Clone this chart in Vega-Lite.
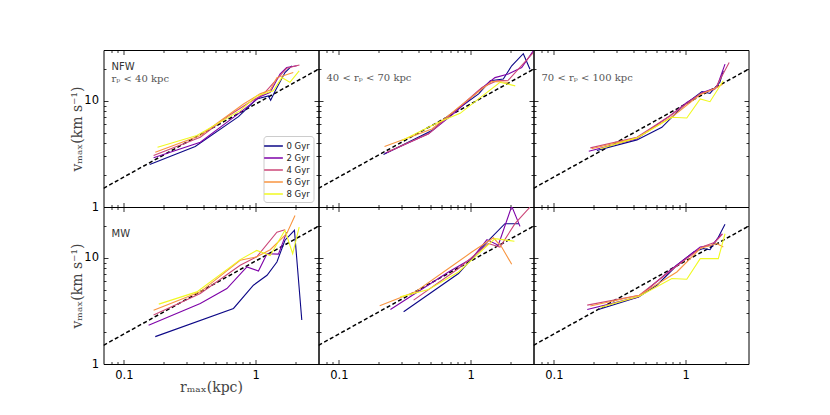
{
"$schema": "https://vega.github.io/schema/vega-lite/v6.json",
"background": "white",
"padding": {"left": 69.5, "top": 49, "right": 5, "bottom": 5},
"columns": 3,
"spacing": 0,
"bounds": "flush",
"config": {
  "view": {"stroke": "black", "strokeWidth": 1},
  "axis": {"domain": false, "grid": false, "tickColor": "black", "tickWidth": 0.8, "labelFont": "DejaVu Sans", "labelFontSize": 11.5, "labelColor": "black", "titleFont": "DejaVu Serif", "titleFontSize": 14, "titleFontWeight": "normal", "titleColor": "#444", "labelOverlap": false, "labelFlush": false, "titlePadding": 2, "minExtent": 0},
  "axisX": {"titlePadding": -2},
  "axisY": {"titlePadding": -1},
  "title": {"anchor": "start", "frame": "group", "offset": -33, "dx": 8, "fontWeight": "normal", "fontSize": 10, "font": "DejaVu Serif", "color": "#555"},
  "concat": {"spacing": 0}
},
"datasets": {
  "fit": [{"r": 0.07, "v": 1.5}, {"r": 3, "v": 19.8}],
  "curves": [
    {"p":"a","t":"0 Gyr","r":0.157,"v":2.51},{"p":"a","t":"0 Gyr","r":0.348,"v":3.71},{"p":"a","t":"0 Gyr","r":0.741,"v":7.08},{"p":"a","t":"0 Gyr","r":1.02,"v":10.4},{"p":"a","t":"0 Gyr","r":1.25,"v":11.1},{"p":"a","t":"0 Gyr","r":1.30,"v":10.1},{"p":"a","t":"0 Gyr","r":1.41,"v":12.4},{"p":"a","t":"0 Gyr","r":1.67,"v":18.4},{"p":"a","t":"0 Gyr","r":1.88,"v":21.3},
    {"p":"a","t":"2 Gyr","r":0.168,"v":2.90},{"p":"a","t":"2 Gyr","r":0.380,"v":4.07},{"p":"a","t":"2 Gyr","r":0.763,"v":7.77},{"p":"a","t":"2 Gyr","r":1.08,"v":10.9},{"p":"a","t":"2 Gyr","r":1.29,"v":12.0},{"p":"a","t":"2 Gyr","r":1.53,"v":17.8},{"p":"a","t":"2 Gyr","r":1.72,"v":20.5},{"p":"a","t":"2 Gyr","r":2.05,"v":21.3},
    {"p":"a","t":"4 Gyr","r":0.168,"v":3.05},{"p":"a","t":"4 Gyr","r":0.380,"v":4.53},{"p":"a","t":"4 Gyr","r":0.641,"v":7.39},{"p":"a","t":"4 Gyr","r":0.858,"v":9.31},{"p":"a","t":"4 Gyr","r":1.15,"v":11.6},{"p":"a","t":"4 Gyr","r":1.45,"v":16.0},{"p":"a","t":"4 Gyr","r":1.72,"v":20.2},{"p":"a","t":"4 Gyr","r":2.15,"v":21.7},
    {"p":"a","t":"6 Gyr","r":0.173,"v":3.28},{"p":"a","t":"6 Gyr","r":0.380,"v":4.70},{"p":"a","t":"6 Gyr","r":0.809,"v":9.31},{"p":"a","t":"6 Gyr","r":1.08,"v":11.6},{"p":"a","t":"6 Gyr","r":1.29,"v":12.6},{"p":"a","t":"6 Gyr","r":1.45,"v":16.5},{"p":"a","t":"6 Gyr","r":1.62,"v":17.2},{"p":"a","t":"6 Gyr","r":1.93,"v":18.4},
    {"p":"a","t":"8 Gyr","r":0.180,"v":3.65},{"p":"a","t":"8 Gyr","r":0.358,"v":4.70},{"p":"a","t":"8 Gyr","r":0.763,"v":8.06},{"p":"a","t":"8 Gyr","r":1.02,"v":11.1},{"p":"a","t":"8 Gyr","r":1.36,"v":12.4},{"p":"a","t":"8 Gyr","r":1.58,"v":16.5},{"p":"a","t":"8 Gyr","r":1.82,"v":14.9},{"p":"a","t":"8 Gyr","r":2.14,"v":19.1},

    {"p":"b","t":"0 Gyr","r":0.218,"v":3.12},{"p":"b","t":"0 Gyr","r":0.508,"v":5.24},{"p":"b","t":"0 Gyr","r":0.679,"v":7.23},{"p":"b","t":"0 Gyr","r":1.15,"v":11.6},{"p":"b","t":"0 Gyr","r":1.41,"v":15.4},{"p":"b","t":"0 Gyr","r":1.77,"v":16.0},{"p":"b","t":"0 Gyr","r":2.05,"v":21.3},{"p":"b","t":"0 Gyr","r":2.51,"v":27.7},{"p":"b","t":"0 Gyr","r":2.82,"v":19.8},
    {"p":"b","t":"2 Gyr","r":0.225,"v":3.21},{"p":"b","t":"2 Gyr","r":0.479,"v":4.88},{"p":"b","t":"2 Gyr","r":0.763,"v":7.77},{"p":"b","t":"2 Gyr","r":1.15,"v":12.4},{"p":"b","t":"2 Gyr","r":1.53,"v":16.5},{"p":"b","t":"2 Gyr","r":1.93,"v":17.8},{"p":"b","t":"2 Gyr","r":2.44,"v":20.5},{"p":"b","t":"2 Gyr","r":2.99,"v":29.4},
    {"p":"b","t":"4 Gyr","r":0.232,"v":3.28},{"p":"b","t":"4 Gyr","r":0.479,"v":4.88},{"p":"b","t":"4 Gyr","r":0.763,"v":8.06},{"p":"b","t":"4 Gyr","r":1.22,"v":13.3},{"p":"b","t":"4 Gyr","r":1.58,"v":15.4},{"p":"b","t":"4 Gyr","r":1.93,"v":15.6},{"p":"b","t":"4 Gyr","r":2.99,"v":28.4},
    {"p":"b","t":"6 Gyr","r":0.222,"v":3.71},{"p":"b","t":"6 Gyr","r":0.508,"v":5.43},{"p":"b","t":"6 Gyr","r":0.809,"v":8.65},{"p":"b","t":"6 Gyr","r":1.22,"v":12.9},{"p":"b","t":"6 Gyr","r":1.45,"v":15.2},{"p":"b","t":"6 Gyr","r":1.93,"v":14.9},
    {"p":"b","t":"8 Gyr","r":0.301,"v":4.22},{"p":"b","t":"8 Gyr","r":0.570,"v":6.26},{"p":"b","t":"8 Gyr","r":0.832,"v":7.60},{"p":"b","t":"8 Gyr","r":1.15,"v":10.4},{"p":"b","t":"8 Gyr","r":1.67,"v":14.9},{"p":"b","t":"8 Gyr","r":2.18,"v":13.8},

    {"p":"c","t":"0 Gyr","r":0.212,"v":3.40},{"p":"c","t":"0 Gyr","r":0.427,"v":4.28},{"p":"c","t":"0 Gyr","r":0.660,"v":5.62},{"p":"c","t":"0 Gyr","r":0.962,"v":8.98},{"p":"c","t":"0 Gyr","r":1.33,"v":12.2},{"p":"c","t":"0 Gyr","r":1.53,"v":11.7},{"p":"c","t":"0 Gyr","r":1.82,"v":14.9},{"p":"c","t":"0 Gyr","r":1.93,"v":19.1},
    {"p":"c","t":"2 Gyr","r":0.184,"v":3.35},{"p":"c","t":"2 Gyr","r":0.427,"v":4.38},{"p":"c","t":"2 Gyr","r":0.763,"v":7.23},{"p":"c","t":"2 Gyr","r":1.02,"v":9.64},{"p":"c","t":"2 Gyr","r":1.36,"v":12.0},{"p":"c","t":"2 Gyr","r":1.72,"v":13.3},{"p":"c","t":"2 Gyr","r":1.99,"v":22.1},
    {"p":"c","t":"4 Gyr","r":0.189,"v":3.60},{"p":"c","t":"4 Gyr","r":0.427,"v":4.53},{"p":"c","t":"4 Gyr","r":0.763,"v":7.23},{"p":"c","t":"4 Gyr","r":1.29,"v":11.6},{"p":"c","t":"4 Gyr","r":1.67,"v":12.9},{"p":"c","t":"4 Gyr","r":2.14,"v":22.9},
    {"p":"c","t":"6 Gyr","r":0.193,"v":3.53},{"p":"c","t":"6 Gyr","r":0.427,"v":4.47},{"p":"c","t":"6 Gyr","r":0.809,"v":7.23},{"p":"c","t":"6 Gyr","r":1.29,"v":11.4},{"p":"c","t":"6 Gyr","r":1.72,"v":13.3},{"p":"c","t":"6 Gyr","r":1.91,"v":14.3},
    {"p":"c","t":"8 Gyr","r":0.225,"v":3.53},{"p":"c","t":"8 Gyr","r":0.427,"v":4.47},{"p":"c","t":"8 Gyr","r":0.786,"v":6.98},{"p":"c","t":"8 Gyr","r":1.02,"v":6.88},{"p":"c","t":"8 Gyr","r":1.29,"v":10.4},{"p":"c","t":"8 Gyr","r":1.53,"v":9.79},{"p":"c","t":"8 Gyr","r":1.93,"v":15.4},

    {"p":"d","t":"0 Gyr","r":0.173,"v":1.81},{"p":"d","t":"0 Gyr","r":0.679,"v":3.33},{"p":"d","t":"0 Gyr","r":0.962,"v":5.51},{"p":"d","t":"0 Gyr","r":1.22,"v":6.84},{"p":"d","t":"0 Gyr","r":1.45,"v":9.12},{"p":"d","t":"0 Gyr","r":1.67,"v":14.6},{"p":"d","t":"0 Gyr","r":1.97,"v":18.1},{"p":"d","t":"0 Gyr","r":2.24,"v":2.59},
    {"p":"d","t":"2 Gyr","r":0.154,"v":2.32},{"p":"d","t":"2 Gyr","r":0.380,"v":3.71},{"p":"d","t":"2 Gyr","r":0.605,"v":5.13},{"p":"d","t":"2 Gyr","r":0.858,"v":8.18},{"p":"d","t":"2 Gyr","r":1.05,"v":7.50},{"p":"d","t":"2 Gyr","r":1.22,"v":10.9},{"p":"d","t":"2 Gyr","r":1.49,"v":10.8},{"p":"d","t":"2 Gyr","r":1.72,"v":17.4},
    {"p":"d","t":"4 Gyr","r":0.168,"v":2.89},{"p":"d","t":"4 Gyr","r":0.380,"v":4.61},{"p":"d","t":"4 Gyr","r":0.763,"v":8.49},{"p":"d","t":"4 Gyr","r":1.02,"v":10.2},{"p":"d","t":"4 Gyr","r":1.45,"v":17.4},{"p":"d","t":"4 Gyr","r":1.67,"v":18.3},
    {"p":"d","t":"6 Gyr","r":0.168,"v":3.21},{"p":"d","t":"6 Gyr","r":0.380,"v":4.77},{"p":"d","t":"6 Gyr","r":0.763,"v":9.46},{"p":"d","t":"6 Gyr","r":1.02,"v":10.2},{"p":"d","t":"6 Gyr","r":1.29,"v":11.9},{"p":"d","t":"6 Gyr","r":1.72,"v":16.8},{"p":"d","t":"6 Gyr","r":1.99,"v":25.0},
    {"p":"d","t":"8 Gyr","r":0.184,"v":3.66},{"p":"d","t":"8 Gyr","r":0.358,"v":4.77},{"p":"d","t":"8 Gyr","r":0.763,"v":9.60},{"p":"d","t":"8 Gyr","r":1.02,"v":11.7},{"p":"d","t":"8 Gyr","r":1.29,"v":10.5},{"p":"d","t":"8 Gyr","r":1.67,"v":18.1},{"p":"d","t":"8 Gyr","r":1.91,"v":10.9},{"p":"d","t":"8 Gyr","r":2.14,"v":19.4},

    {"p":"e","t":"0 Gyr","r":0.310,"v":3.10},{"p":"e","t":"0 Gyr","r":0.809,"v":7.10},{"p":"e","t":"0 Gyr","r":1.02,"v":9.81},{"p":"e","t":"0 Gyr","r":1.41,"v":15.1},{"p":"e","t":"0 Gyr","r":1.82,"v":20.9},{"p":"e","t":"0 Gyr","r":2.33,"v":20.9},
    {"p":"e","t":"2 Gyr","r":0.246,"v":3.26},{"p":"e","t":"2 Gyr","r":0.679,"v":7.34},{"p":"e","t":"2 Gyr","r":1.02,"v":9.81},{"p":"e","t":"2 Gyr","r":1.33,"v":14.8},{"p":"e","t":"2 Gyr","r":1.62,"v":13.1},{"p":"e","t":"2 Gyr","r":2.05,"v":30.5},{"p":"e","t":"2 Gyr","r":2.37,"v":19.7},
    {"p":"e","t":"4 Gyr","r":0.369,"v":3.99},{"p":"e","t":"4 Gyr","r":0.809,"v":7.91},{"p":"e","t":"4 Gyr","r":1.36,"v":13.6},{"p":"e","t":"4 Gyr","r":1.67,"v":12.6},{"p":"e","t":"4 Gyr","r":2.17,"v":20.9},{"p":"e","t":"4 Gyr","r":2.82,"v":29.9},
    {"p":"e","t":"6 Gyr","r":0.204,"v":3.53},{"p":"e","t":"6 Gyr","r":0.380,"v":4.77},{"p":"e","t":"6 Gyr","r":0.679,"v":7.91},{"p":"e","t":"6 Gyr","r":1.02,"v":11.3},{"p":"e","t":"6 Gyr","r":1.49,"v":15.4},{"p":"e","t":"6 Gyr","r":1.72,"v":12.6},{"p":"e","t":"6 Gyr","r":2.05,"v":8.67},
    {"p":"e","t":"8 Gyr","r":0.292,"v":4.28},{"p":"e","t":"8 Gyr","r":0.479,"v":5.02},{"p":"e","t":"8 Gyr","r":0.809,"v":7.34},{"p":"e","t":"8 Gyr","r":1.08,"v":10.2},{"p":"e","t":"8 Gyr","r":1.53,"v":15.1},{"p":"e","t":"8 Gyr","r":2.15,"v":14.3},

    {"p":"f","t":"0 Gyr","r":0.218,"v":3.26},{"p":"f","t":"0 Gyr","r":0.439,"v":4.28},{"p":"f","t":"0 Gyr","r":0.605,"v":5.51},{"p":"f","t":"0 Gyr","r":0.858,"v":8.49},{"p":"f","t":"0 Gyr","r":1.15,"v":11.3},{"p":"f","t":"0 Gyr","r":1.36,"v":12.2},{"p":"f","t":"0 Gyr","r":1.53,"v":11.9},{"p":"f","t":"0 Gyr","r":1.77,"v":15.6},{"p":"f","t":"0 Gyr","r":1.99,"v":20.6},
    {"p":"f","t":"2 Gyr","r":0.179,"v":3.26},{"p":"f","t":"2 Gyr","r":0.439,"v":4.28},{"p":"f","t":"2 Gyr","r":0.763,"v":7.62},{"p":"f","t":"2 Gyr","r":1.29,"v":12.6},{"p":"f","t":"2 Gyr","r":1.58,"v":13.1},{"p":"f","t":"2 Gyr","r":1.88,"v":16.8},
    {"p":"f","t":"4 Gyr","r":0.179,"v":3.58},{"p":"f","t":"4 Gyr","r":0.445,"v":4.44},{"p":"f","t":"4 Gyr","r":0.809,"v":7.91},{"p":"f","t":"4 Gyr","r":1.33,"v":12.6},{"p":"f","t":"4 Gyr","r":1.67,"v":14.0},{"p":"f","t":"4 Gyr","r":1.91,"v":16.8},
    {"p":"f","t":"6 Gyr","r":0.189,"v":3.51},{"p":"f","t":"6 Gyr","r":0.445,"v":4.44},{"p":"f","t":"6 Gyr","r":0.858,"v":7.34},{"p":"f","t":"6 Gyr","r":1.29,"v":12.2},{"p":"f","t":"6 Gyr","r":1.72,"v":13.6},{"p":"f","t":"6 Gyr","r":1.93,"v":12.6},
    {"p":"f","t":"8 Gyr","r":0.225,"v":3.41},{"p":"f","t":"8 Gyr","r":0.445,"v":4.34},{"p":"f","t":"8 Gyr","r":0.786,"v":6.37},{"p":"f","t":"8 Gyr","r":1.02,"v":6.28},{"p":"f","t":"8 Gyr","r":1.29,"v":9.81},{"p":"f","t":"8 Gyr","r":1.77,"v":9.81},{"p":"f","t":"8 Gyr","r":1.99,"v":16.8}
  ]
},
"resolve": {"legend": {"color": "independent"}},
"concat": [
  {"width": 215, "height": 157,
   "title": {"text": "NFW", "subtitle": "rₚ < 40 kpc", "font": "DejaVu Sans", "color": "#333", "offset": -34, "subtitleFont": "DejaVu Serif", "subtitleFontSize": 10, "subtitleColor": "#555", "subtitlePadding": 2},
   "resolve": {"axis": {"x": "independent", "y": "independent"}},
   "layer": [
    {"data": {"name": "fit"}, "mark": {"type": "line", "color": "black", "strokeDash": [4, 2.5], "strokeWidth": 1.5, "clip": true},
     "encoding": {
      "x": {"field": "r", "type": "quantitative", "scale": {"type": "log", "domain": [0.07, 3], "nice": false}, "axis": {"orient": "bottom", "values": [0.08,0.09,0.1,0.2,0.3,0.4,0.5,0.6,0.7,0.8,0.9,1,2], "tickSize": {"condition": {"test": "datum.value == 0.1 || datum.value == 1", "value": -4.5}, "value": -2.5}, "labels": false, "title": null}},
      "y": {"field": "v", "type": "quantitative", "scale": {"type": "log", "domain": [1, 30], "nice": false}, "axis": {"orient": "left", "values": [1,2,3,4,5,6,7,8,9,10,20], "tickSize": {"condition": {"test": "datum.value == 1 || datum.value == 10", "value": -4.5}, "value": -2.5}, "labelExpr": "datum.value == 1 ? '1' : datum.value == 10 ? '10' : ''", "labelPadding": 9.5, "title": "vₘₐₓ(km s⁻¹)"}}
     }},
    {"data": {"name": "curves"}, "transform": [{"filter": "datum.p == 'a'"}], "mark": {"type": "line", "strokeWidth": 1.1, "clip": true},
     "encoding": {
      "x": {"field": "r", "type": "quantitative", "scale": {"type": "log", "domain": [0.07, 3], "nice": false}, "axis": {"orient": "top", "values": [0.08,0.09,0.1,0.2,0.3,0.4,0.5,0.6,0.7,0.8,0.9,1,2], "tickSize": {"condition": {"test": "datum.value == 0.1 || datum.value == 1", "value": -4.5}, "value": -2.5}, "labels": false, "title": null}},
      "y": {"field": "v", "type": "quantitative", "scale": {"type": "log", "domain": [1, 30], "nice": false}, "axis": {"orient": "right", "values": [2,3,4,5,6,7,8,9,10,20], "tickSize": {"condition": {"test": "datum.value == 10", "value": -4.5}, "value": -2.5}, "labels": false, "title": null}},
      "color": {"field": "t", "type": "nominal", "scale": {"domain": ["0 Gyr","2 Gyr","4 Gyr","6 Gyr","8 Gyr"], "range": ["#0d0887","#7e03a8","#cc4778","#f89540","#f0f921"]},
        "legend": {"orient": "bottom-right", "title": null, "offset": 5, "strokeColor": "#cccccc", "fillColor": "white", "padding": 3, "cornerRadius": 3, "labelFont": "DejaVu Sans", "labelFontSize": 8.5, "labelColor": "#222", "symbolType": "M-1.5,0H1.5", "symbolSize": 156, "symbolStrokeWidth": 1.5, "rowPadding": 0, "labelOffset": 6}}
     }}
   ]},
  {"width": 215, "height": 157,
   "title": {"text": "40 < rₚ < 70 kpc"},
   "resolve": {"axis": {"x": "independent", "y": "independent"}},
   "layer": [
    {"data": {"name": "fit"}, "mark": {"type": "line", "color": "black", "strokeDash": [4, 2.5], "strokeWidth": 1.5, "clip": true},
     "encoding": {
      "x": {"field": "r", "type": "quantitative", "scale": {"type": "log", "domain": [0.07, 3], "nice": false}, "axis": {"orient": "bottom", "values": [0.08,0.09,0.1,0.2,0.3,0.4,0.5,0.6,0.7,0.8,0.9,1,2], "tickSize": {"condition": {"test": "datum.value == 0.1 || datum.value == 1", "value": -4.5}, "value": -2.5}, "labels": false, "title": null}},
      "y": {"field": "v", "type": "quantitative", "scale": {"type": "log", "domain": [1, 30], "nice": false}, "axis": {"orient": "left", "values": [2,3,4,5,6,7,8,9,10,20], "tickSize": {"condition": {"test": "datum.value == 10", "value": -4.5}, "value": -2.5}, "labels": false, "title": null}}
     }},
    {"data": {"name": "curves"}, "transform": [{"filter": "datum.p == 'b'"}], "mark": {"type": "line", "strokeWidth": 1.1, "clip": true},
     "encoding": {
      "x": {"field": "r", "type": "quantitative", "scale": {"type": "log", "domain": [0.07, 3], "nice": false}, "axis": {"orient": "top", "values": [0.08,0.09,0.1,0.2,0.3,0.4,0.5,0.6,0.7,0.8,0.9,1,2], "tickSize": {"condition": {"test": "datum.value == 0.1 || datum.value == 1", "value": -4.5}, "value": -2.5}, "labels": false, "title": null}},
      "y": {"field": "v", "type": "quantitative", "scale": {"type": "log", "domain": [1, 30], "nice": false}, "axis": {"orient": "right", "values": [2,3,4,5,6,7,8,9,10,20], "tickSize": {"condition": {"test": "datum.value == 10", "value": -4.5}, "value": -2.5}, "labels": false, "title": null}},
      "color": {"field": "t", "type": "nominal", "scale": {"domain": ["0 Gyr","2 Gyr","4 Gyr","6 Gyr","8 Gyr"], "range": ["#0d0887","#7e03a8","#cc4778","#f89540","#f0f921"]}, "legend": null}
     }}
   ]},
  {"width": 215, "height": 157,
   "title": {"text": "70 < rₚ < 100 kpc"},
   "resolve": {"axis": {"x": "independent", "y": "independent"}},
   "layer": [
    {"data": {"name": "fit"}, "mark": {"type": "line", "color": "black", "strokeDash": [4, 2.5], "strokeWidth": 1.5, "clip": true},
     "encoding": {
      "x": {"field": "r", "type": "quantitative", "scale": {"type": "log", "domain": [0.07, 3], "nice": false}, "axis": {"orient": "bottom", "values": [0.08,0.09,0.1,0.2,0.3,0.4,0.5,0.6,0.7,0.8,0.9,1,2], "tickSize": {"condition": {"test": "datum.value == 0.1 || datum.value == 1", "value": -4.5}, "value": -2.5}, "labels": false, "title": null}},
      "y": {"field": "v", "type": "quantitative", "scale": {"type": "log", "domain": [1, 30], "nice": false}, "axis": {"orient": "left", "values": [2,3,4,5,6,7,8,9,10,20], "tickSize": {"condition": {"test": "datum.value == 10", "value": -4.5}, "value": -2.5}, "labels": false, "title": null}}
     }},
    {"data": {"name": "curves"}, "transform": [{"filter": "datum.p == 'c'"}], "mark": {"type": "line", "strokeWidth": 1.1, "clip": true},
     "encoding": {
      "x": {"field": "r", "type": "quantitative", "scale": {"type": "log", "domain": [0.07, 3], "nice": false}, "axis": {"orient": "top", "values": [0.08,0.09,0.1,0.2,0.3,0.4,0.5,0.6,0.7,0.8,0.9,1,2], "tickSize": {"condition": {"test": "datum.value == 0.1 || datum.value == 1", "value": -4.5}, "value": -2.5}, "labels": false, "title": null}},
      "y": {"field": "v", "type": "quantitative", "scale": {"type": "log", "domain": [1, 30], "nice": false}, "axis": {"orient": "right", "values": [2,3,4,5,6,7,8,9,10,20], "tickSize": {"condition": {"test": "datum.value == 10", "value": -4.5}, "value": -2.5}, "labels": false, "title": null}},
      "color": {"field": "t", "type": "nominal", "scale": {"domain": ["0 Gyr","2 Gyr","4 Gyr","6 Gyr","8 Gyr"], "range": ["#0d0887","#7e03a8","#cc4778","#f89540","#f0f921"]}, "legend": null}
     }}
   ]},
  {"width": 215, "height": 157,
   "title": {"text": "MW", "font": "DejaVu Sans", "color": "#333", "offset": -32},
   "resolve": {"axis": {"x": "independent", "y": "independent"}},
   "layer": [
    {"data": {"name": "fit"}, "mark": {"type": "line", "color": "black", "strokeDash": [4, 2.5], "strokeWidth": 1.5, "clip": true},
     "encoding": {
      "x": {"field": "r", "type": "quantitative", "scale": {"type": "log", "domain": [0.07, 3], "nice": false}, "axis": {"orient": "bottom", "values": [0.08,0.09,0.1,0.2,0.3,0.4,0.5,0.6,0.7,0.8,0.9,1,2], "tickSize": {"condition": {"test": "datum.value == 0.1 || datum.value == 1", "value": -4.5}, "value": -2.5}, "labelExpr": "datum.value == 0.1 ? '0.1' : datum.value == 1 ? '1' : ''", "labelPadding": 9.5, "title": "rₘₐₓ(kpc)"}},
      "y": {"field": "v", "type": "quantitative", "scale": {"type": "log", "domain": [1, 30], "nice": false}, "axis": {"orient": "left", "values": [1,2,3,4,5,6,7,8,9,10,20], "tickSize": {"condition": {"test": "datum.value == 1 || datum.value == 10", "value": -4.5}, "value": -2.5}, "labelExpr": "datum.value == 1 ? '1' : datum.value == 10 ? '10' : ''", "labelPadding": 9.5, "title": "vₘₐₓ(km s⁻¹)"}}
     }},
    {"data": {"name": "curves"}, "transform": [{"filter": "datum.p == 'd'"}], "mark": {"type": "line", "strokeWidth": 1.1, "clip": true},
     "encoding": {
      "x": {"field": "r", "type": "quantitative", "scale": {"type": "log", "domain": [0.07, 3], "nice": false}, "axis": {"orient": "top", "values": [0.08,0.09,0.1,0.2,0.3,0.4,0.5,0.6,0.7,0.8,0.9,1,2], "tickSize": {"condition": {"test": "datum.value == 0.1 || datum.value == 1", "value": -4.5}, "value": -2.5}, "labels": false, "title": null}},
      "y": {"field": "v", "type": "quantitative", "scale": {"type": "log", "domain": [1, 30], "nice": false}, "axis": {"orient": "right", "values": [2,3,4,5,6,7,8,9,10,20], "tickSize": {"condition": {"test": "datum.value == 10", "value": -4.5}, "value": -2.5}, "labels": false, "title": null}},
      "color": {"field": "t", "type": "nominal", "scale": {"domain": ["0 Gyr","2 Gyr","4 Gyr","6 Gyr","8 Gyr"], "range": ["#0d0887","#7e03a8","#cc4778","#f89540","#f0f921"]}, "legend": null}
     }}
   ]},
  {"width": 215, "height": 157,
   "resolve": {"axis": {"x": "independent", "y": "independent"}},
   "layer": [
    {"data": {"name": "fit"}, "mark": {"type": "line", "color": "black", "strokeDash": [4, 2.5], "strokeWidth": 1.5, "clip": true},
     "encoding": {
      "x": {"field": "r", "type": "quantitative", "scale": {"type": "log", "domain": [0.07, 3], "nice": false}, "axis": {"orient": "bottom", "values": [0.08,0.09,0.1,0.2,0.3,0.4,0.5,0.6,0.7,0.8,0.9,1,2], "tickSize": {"condition": {"test": "datum.value == 0.1 || datum.value == 1", "value": -4.5}, "value": -2.5}, "labelExpr": "datum.value == 0.1 ? '0.1' : datum.value == 1 ? '1' : ''", "labelPadding": 9.5, "title": null}},
      "y": {"field": "v", "type": "quantitative", "scale": {"type": "log", "domain": [1, 30], "nice": false}, "axis": {"orient": "left", "values": [2,3,4,5,6,7,8,9,10,20], "tickSize": {"condition": {"test": "datum.value == 10", "value": -4.5}, "value": -2.5}, "labels": false, "title": null}}
     }},
    {"data": {"name": "curves"}, "transform": [{"filter": "datum.p == 'e'"}], "mark": {"type": "line", "strokeWidth": 1.1, "clip": true},
     "encoding": {
      "x": {"field": "r", "type": "quantitative", "scale": {"type": "log", "domain": [0.07, 3], "nice": false}, "axis": {"orient": "top", "values": [0.08,0.09,0.1,0.2,0.3,0.4,0.5,0.6,0.7,0.8,0.9,1,2], "tickSize": {"condition": {"test": "datum.value == 0.1 || datum.value == 1", "value": -4.5}, "value": -2.5}, "labels": false, "title": null}},
      "y": {"field": "v", "type": "quantitative", "scale": {"type": "log", "domain": [1, 30], "nice": false}, "axis": {"orient": "right", "values": [2,3,4,5,6,7,8,9,10,20], "tickSize": {"condition": {"test": "datum.value == 10", "value": -4.5}, "value": -2.5}, "labels": false, "title": null}},
      "color": {"field": "t", "type": "nominal", "scale": {"domain": ["0 Gyr","2 Gyr","4 Gyr","6 Gyr","8 Gyr"], "range": ["#0d0887","#7e03a8","#cc4778","#f89540","#f0f921"]}, "legend": null}
     }}
   ]},
  {"width": 215, "height": 157,
   "resolve": {"axis": {"x": "independent", "y": "independent"}},
   "layer": [
    {"data": {"name": "fit"}, "mark": {"type": "line", "color": "black", "strokeDash": [4, 2.5], "strokeWidth": 1.5, "clip": true},
     "encoding": {
      "x": {"field": "r", "type": "quantitative", "scale": {"type": "log", "domain": [0.07, 3], "nice": false}, "axis": {"orient": "bottom", "values": [0.08,0.09,0.1,0.2,0.3,0.4,0.5,0.6,0.7,0.8,0.9,1,2], "tickSize": {"condition": {"test": "datum.value == 0.1 || datum.value == 1", "value": -4.5}, "value": -2.5}, "labelExpr": "datum.value == 0.1 ? '0.1' : datum.value == 1 ? '1' : ''", "labelPadding": 9.5, "title": null}},
      "y": {"field": "v", "type": "quantitative", "scale": {"type": "log", "domain": [1, 30], "nice": false}, "axis": {"orient": "left", "values": [2,3,4,5,6,7,8,9,10,20], "tickSize": {"condition": {"test": "datum.value == 10", "value": -4.5}, "value": -2.5}, "labels": false, "title": null}}
     }},
    {"data": {"name": "curves"}, "transform": [{"filter": "datum.p == 'f'"}], "mark": {"type": "line", "strokeWidth": 1.1, "clip": true},
     "encoding": {
      "x": {"field": "r", "type": "quantitative", "scale": {"type": "log", "domain": [0.07, 3], "nice": false}, "axis": {"orient": "top", "values": [0.08,0.09,0.1,0.2,0.3,0.4,0.5,0.6,0.7,0.8,0.9,1,2], "tickSize": {"condition": {"test": "datum.value == 0.1 || datum.value == 1", "value": -4.5}, "value": -2.5}, "labels": false, "title": null}},
      "y": {"field": "v", "type": "quantitative", "scale": {"type": "log", "domain": [1, 30], "nice": false}, "axis": {"orient": "right", "values": [2,3,4,5,6,7,8,9,10,20], "tickSize": {"condition": {"test": "datum.value == 10", "value": -4.5}, "value": -2.5}, "labels": false, "title": null}},
      "color": {"field": "t", "type": "nominal", "scale": {"domain": ["0 Gyr","2 Gyr","4 Gyr","6 Gyr","8 Gyr"], "range": ["#0d0887","#7e03a8","#cc4778","#f89540","#f0f921"]}, "legend": null}
     }}
   ]}
]
}
